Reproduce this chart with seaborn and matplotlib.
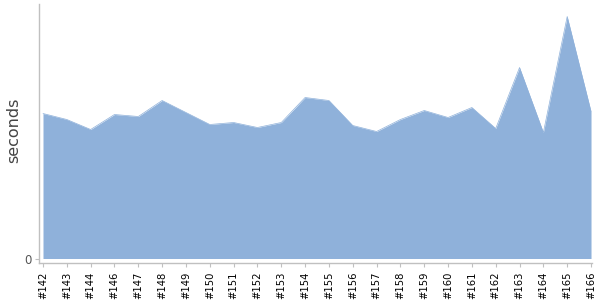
import matplotlib
matplotlib.use("Agg")
import matplotlib.pyplot as plt
import seaborn as sns
import pandas as pd

builds = ["#142", "#143", "#144", "#146", "#147", "#148", "#149", "#150",
          "#151", "#152", "#153", "#154", "#155", "#156", "#157", "#158",
          "#159", "#160", "#161", "#162", "#163", "#164", "#165", "#166"]
seconds = [14.5, 13.9, 12.9, 14.4, 14.2, 15.8, 14.6, 13.4,
           13.6, 13.1, 13.6, 16.1, 15.8, 13.3, 12.7, 13.9,
           14.8, 14.1, 15.1, 13.0, 19.1, 12.6, 24.2, 14.7]

df = pd.DataFrame({"build": builds, "seconds": seconds})
df["pos"] = range(len(df))

sns.set_style("white")
plt.rcParams["font.family"] = ["DejaVu Sans"]

fig = plt.figure(figsize=(6, 3), dpi=100)
ax = fig.add_axes([39.5 / 600, 1 - 263 / 300, (591.5 - 39.5) / 600, 259 / 300])

fill_color = "#8FB1DA"
sns.lineplot(data=df, x="pos", y="seconds", ax=ax, color=fill_color, linewidth=0.5)
ax.fill_between(df["pos"], 0, df["seconds"], color=fill_color, linewidth=0)

ax.set_xlim(-3.5 / 23.83, 23.02)
ax.set_ylim(-0.45, 25.45)
ax.set_xticks(df["pos"])
ax.set_xticklabels(df["build"], rotation=90, fontsize=7.2, color="#000000")
ax.set_yticks([0])
ax.set_yticklabels(["0"], fontsize=8.5, color="#555555")
ax.tick_params(axis="x", length=3, width=0.8, color="#c0c0c0", pad=3, bottom=True)
ax.tick_params(axis="y", length=3, width=0.8, color="#c0c0c0", pad=2.5, left=True)

for side in ["top", "right"]:
    ax.spines[side].set_visible(False)
for side in ["left", "bottom"]:
    ax.spines[side].set_color("#c0c0c0")
    ax.spines[side].set_linewidth(1.0)

ax.set_xlabel("")
ax.set_ylabel("seconds", fontsize=11.5, color="#444444")
ax.yaxis.set_label_coords(-0.034, 0.513)

fig.savefig("out.png", dpi=100)
